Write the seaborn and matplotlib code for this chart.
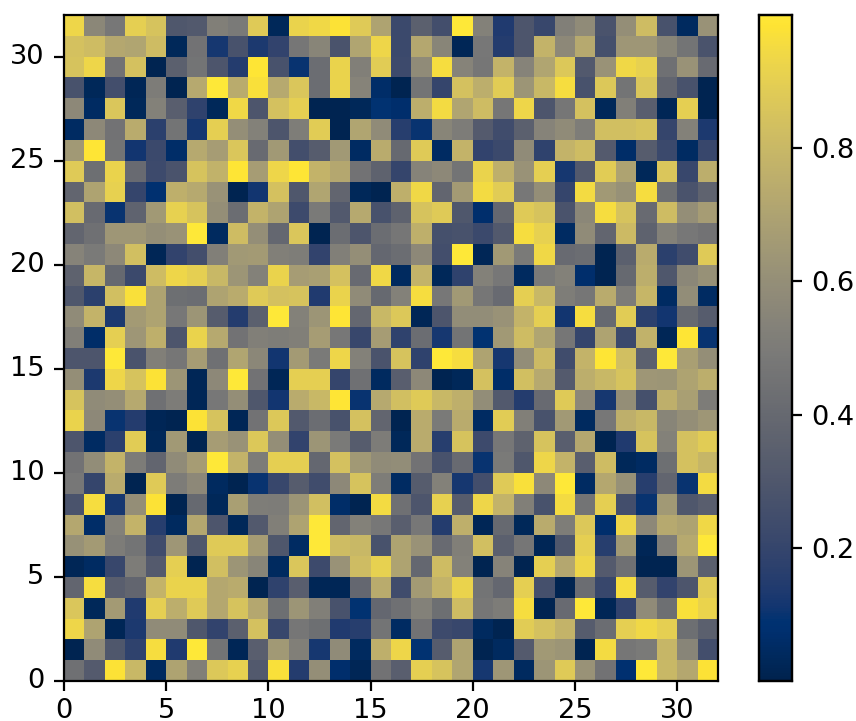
import numpy as np
import matplotlib
matplotlib.use('Agg')
import matplotlib.pyplot as plt
import seaborn as sns

# valori letti a occhio dal riferimento, una riga per ogni y (31 = in alto)
row_31 = [.93,.56,.48,.90,.85,.30,.31,.52,.49,.88,.03,.92,.94,.98,.88,.70,.22,.35,.25,1.0,.53,.14,.29,.21,.52,.58,.28,.60,.82,.27,.04,.62]
row_30 = [.84,.82,.72,.71,.82,.03,.45,.12,.27,.13,.19,.47,.55,.28,.71,.93,.22,.72,.55,.02,.48,.15,.29,.78,.57,.73,.26,.64,.64,.55,.46,.28]
row_29 = [.85,.93,.45,.84,.01,.35,.46,.29,.15,.99,.27,.10,.42,.92,.52,.89,.23,.58,.96,.54,.47,.78,.54,.71,.87,.31,.62,.94,.91,.44,.62,.41]
row_28 = [.27,.03,.25,.02,.50,.01,.73,1.0,.74,.97,.73,.86,.42,.92,.54,.06,.01,.46,.20,.84,.75,.89,.63,.80,.96,.27,.87,.46,.86,.38,.27,.01]
row_27 = [.57,.05,.86,.03,.53,.34,.18,.03,.94,.29,.84,.90,.01,.01,.03,.09,.07,.75,.95,.71,.82,.47,.93,.29,.47,.84,.03,.52,.34,.02,.90,.01]
row_26 = [.05,.57,.45,.74,.17,.46,.12,.90,.60,.53,.29,.51,.89,.01,.71,.58,.16,.10,.55,.50,.32,.24,.35,.54,.58,.51,.83,.83,.85,.20,.53,.13]
row_25 = [.65,.99,.46,.11,.22,.06,.73,.67,.86,.41,.65,.25,.33,.65,.05,.74,.40,.88,.05,.78,.19,.22,.58,.18,.78,.82,.32,.06,.33,.22,.05,.21]
row_24 = [.88,.43,.92,.41,.23,.28,.85,.77,.99,.67,.93,.99,.78,.72,.45,.36,.20,.54,.57,.46,.92,.76,.62,.90,.12,.31,.89,.70,.03,.86,.21,.75]
row_23 = [.38,.70,.91,.20,.08,.76,.73,.62,.01,.11,.84,.30,.71,.38,.03,.01,.76,.94,.38,.66,.95,.89,.48,.60,.20,.95,.65,.61,.96,.43,.28,.37]
row_22 = [.83,.41,.10,.37,.65,.91,.85,.60,.42,.78,.70,.23,.49,.31,.73,.27,.36,.85,.88,.30,.07,.39,.88,.85,.28,.56,.96,.85,.41,.82,.60,.67]
row_21 = [.38,.44,.64,.64,.60,.62,1.0,.04,.82,.60,.39,.86,.01,.42,.29,.42,.47,.76,.26,.27,.22,.31,.96,.91,.05,.58,.38,.81,.36,.53,.48,.45]
row_20 = [.54,.49,.57,.83,.02,.19,.25,.52,.65,.66,.52,.51,.19,.52,.60,.39,.42,.57,.25,1.0,.02,.65,.49,.94,.41,.42,.01,.35,.74,.17,.24,.88]
row_19 = [.36,.79,.40,.22,.82,.93,.90,.80,.63,.53,.92,.67,.68,.84,.41,.94,.04,.78,.03,.18,.53,.48,.04,.49,.53,.07,.01,.40,.75,.30,.56,.61]
row_18 = [.30,.17,.83,.97,.70,.43,.42,.70,.74,.88,.84,.85,.14,.92,.58,.40,.53,.96,.48,.65,.47,.41,.90,.80,.51,.47,.74,.50,.79,.05,.59,.05]
row_17 = [.58,.78,.13,.66,.70,.48,.63,.33,.15,.35,1.0,.53,.63,.99,.39,.80,.87,.02,.29,.59,.59,.62,.78,.90,.11,.96,.40,.89,.17,.11,.40,.33]
row_16 = [.52,.06,.90,.64,.76,.29,.92,.73,.45,.52,.51,.52,.67,.48,.21,.67,.18,.42,.12,.46,.09,.65,.82,.71,.47,.20,.70,.22,.77,.02,.99,.10]
row_15 = [.29,.29,1.0,.28,.52,.47,.67,.44,.71,.56,.11,.66,.49,.93,.53,.28,.85,.18,1.0,.96,.70,.12,.59,.81,.24,.78,.99,.83,.35,1.0,.68,.60]
row_14 = [.60,.13,.93,.85,.98,.63,.02,.57,1.0,.45,.02,.90,.90,.20,.44,.04,.34,.57,.01,.03,.84,.06,.83,.73,.32,.75,.80,.85,.64,.63,.70,.75]
row_13 = [.85,.58,.60,.73,.44,.50,.02,.48,.60,.30,.11,.74,.80,.99,.10,.73,.83,.88,.80,.76,.59,.31,.15,.41,.88,.57,.12,.60,.26,.76,.68,.50]
row_12 = [.92,.57,.10,.15,.02,.01,.98,.85,.02,.45,.87,.31,.42,.27,.84,.38,.01,.74,.49,.74,.05,.89,.52,.27,.65,.04,.48,.76,.80,.55,.60,.64]
row_11 = [.29,.05,.17,.89,.03,.65,.01,.67,.62,.87,.60,.19,.63,.49,.33,.50,.03,.74,.16,.85,.23,.48,.36,.85,.34,.72,.01,.14,.85,.53,.84,.89]
row_10 = [.45,.59,.78,.50,.38,.58,.67,1.0,.78,.50,.90,.90,.39,.84,.65,.58,.59,.45,.27,.41,.10,.49,.30,.93,.78,.34,.82,.03,.05,.43,.84,.79]
row_09 = [.48,.20,.74,.01,.88,.50,.57,.04,.01,.10,.21,.33,.24,.57,.85,.51,.05,.33,.53,.12,.25,.88,.97,.57,1.0,.05,.72,.61,.16,.38,.10,.95]
row_08 = [.28,.96,.12,.60,.98,.01,.40,.03,.68,.51,.50,.63,.83,.06,.01,.95,.44,.29,.91,.33,.93,.78,.52,.27,.95,.46,.90,.25,.10,.65,.30,.34]
row_07 = [.72,.06,.53,.78,.16,.04,.72,.29,.03,.31,.52,.70,1.0,.38,.53,.48,.34,.48,.15,.76,.02,.40,.03,.74,.51,.87,.07,.93,.57,.73,.70,.94]
row_06 = [.61,.66,.50,.46,.24,.64,.30,.88,.88,.67,.30,.05,1.0,.82,.80,.27,.70,.62,.41,.52,.83,.35,.47,.02,.30,.90,.16,.65,.02,.51,.73,1.0]
row_05 = [.02,.05,.21,.50,.32,.90,.01,.83,.63,.55,.04,.86,.23,.62,.82,.91,.70,.39,.82,.53,.01,.54,.01,.90,.72,.93,.32,.44,.01,.01,.63,.35]
row_04 = [.38,.96,.34,.38,.78,.92,.92,.72,.74,.01,.18,.34,.02,.02,.39,.74,.24,.66,.78,.92,.46,.39,.90,.26,.01,.42,.21,.96,.33,.19,.29,.89]
row_03 = [.86,.03,.66,.14,.90,.75,.88,.72,.85,.72,.43,.63,.52,.27,.09,.39,.44,.53,.43,.82,.47,.50,.96,.01,.41,1.0,.02,.19,.58,.43,.97,.92]
row_02 = [.93,.70,.02,.13,.58,.58,.30,.19,.35,.84,.21,.47,.43,.14,.16,.46,.05,.45,.23,.21,.04,.01,.89,.84,.78,.33,.42,.90,.94,.90,.43,.35]
row_01 = [.01,.58,.30,.18,.96,.14,1.0,.46,.02,.34,.65,.52,.12,.58,.04,.76,.93,.09,.33,.70,.01,.04,.32,.65,.63,.01,.95,.47,.49,.79,.55,.25]
row_00 = [.44,.32,.98,.80,.04,.70,.52,.87,.91,.31,.97,.15,.60,.07,.02,.45,.34,.90,.85,.71,.12,.64,.04,.63,.88,.62,.45,.08,1.0,.80,.72,.98]

griglia = np.array([row_00, row_01, row_02, row_03, row_04, row_05, row_06, row_07,
                    row_08, row_09, row_10, row_11, row_12, row_13, row_14, row_15,
                    row_16, row_17, row_18, row_19, row_20, row_21, row_22, row_23,
                    row_24, row_25, row_26, row_27, row_28, row_29, row_30, row_31])

tick_assi = [0, 5, 10, 15, 20, 25, 30]
tick_cbar = [0.2, 0.4, 0.6, 0.8]

W, H = 856, 721
fig = plt.figure(figsize=(W / 200, H / 200), dpi=200)
ax = fig.add_axes([64 / W, 1 - 681 / H, 654 / W, 666 / H])
cax = fig.add_axes([759 / W, 1 - 681 / H, 33 / W, 666 / H])

sns.heatmap(griglia, cmap='cividis', vmin=0, vmax=1, ax=ax, cbar_ax=cax)
ax.invert_yaxis()

ax.set_xticks(tick_assi, labels=[str(t) for t in tick_assi], rotation=0)
ax.set_yticks(tick_assi, labels=[str(t) for t in tick_assi], rotation=0)
# etichette x poco piu' vicine, altrimenti escono dal bordo
ax.tick_params(axis='x', pad=2.8, labelsize=9.8)
ax.tick_params(axis='y', labelsize=9.8)
for spine in ax.spines.values():
    spine.set_visible(True)

cax.set_yticks(tick_cbar)
cax.set_yticklabels(['0.2', '0.4', '0.6', '0.8'])
cax.tick_params(labelsize=9.8)
for spine in cax.spines.values():
    spine.set_visible(True)
ax.collections[0].colorbar.outline.set_linewidth(0.8)

fig.savefig('out.png', dpi=200)
